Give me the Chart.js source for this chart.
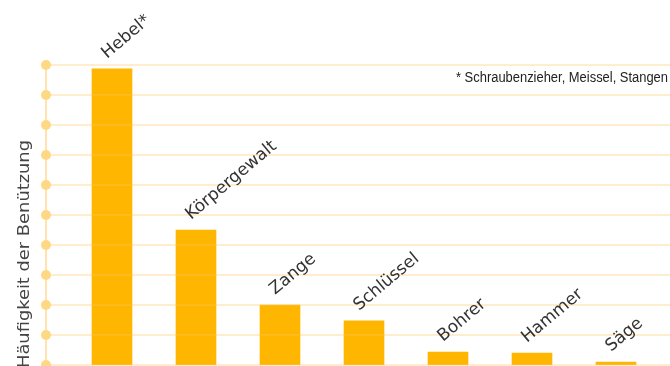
<!DOCTYPE html>
<html>
<head>
<meta charset="utf-8">
<script src="https://cdn.jsdelivr.net/npm/chart.js@4"></script>
<style>
  html, body { margin: 0; padding: 0; background: #fff; }
  #wrap { width: 670px; height: 366px; }
</style>
</head>
<body>
<div id="wrap"><canvas id="chart" width="670" height="366"></canvas></div>
<script>
const categories = ["Hebel*", "Körpergewalt", "Zange", "Schlüssel", "Bohrer", "Hammer", "Säge"];
const usage = [9.87, 4.5, 2.0, 1.47, 0.43, 0.4, 0.1];
const gridValues = [0, 1, 2, 3, 4, 5, 6, 7, 8, 9, 10];
const yTitle = "Häufigkeit der Benützung";
const footnote = "* Schraubenzieher, Meissel, Stangen";

const barColor = "#ffb600";
const labelFont = "17px 'DejaVu Sans', sans-serif";

// grid, axis dots and all the free-standing text
const decorations = {
    id: "decorations",
    afterDatasetsDraw(chart) {
        const { ctx, chartArea, scales } = chart;
        const y = scales.y;
        const axisX = chartArea.left - 24;
        const topY = y.getPixelForValue(gridValues[gridValues.length - 1]);

        ctx.save();
        // horizontal lines (drawn over the bars, slightly transparent)
        ctx.strokeStyle = "rgba(255, 196, 90, 0.3)";
        ctx.lineWidth = 2;
        gridValues.forEach((v) => {
            const py = Math.round(y.getPixelForValue(v));
            ctx.beginPath();
            ctx.moveTo(axisX, py);
            ctx.lineTo(chart.width, py);
            ctx.stroke();
        });

        // vertical axis line + dots
        ctx.strokeStyle = "#ffe2ad";
        ctx.beginPath();
        ctx.moveTo(axisX, topY);
        ctx.lineTo(axisX, chart.height);
        ctx.stroke();
        ctx.fillStyle = "#ffd886";
        gridValues.forEach((v) => {
            const py = y.getPixelForValue(v);
            ctx.beginPath();
            ctx.arc(axisX, py, 5, 0, Math.PI * 2);
            ctx.fill();
        });

        // rotated category labels above the bars
        const meta = chart.getDatasetMeta(0);
        ctx.fillStyle = "#333";
        ctx.font = labelFont;
        ctx.textAlign = "left";
        ctx.textBaseline = "alphabetic";
        meta.data.forEach((bar, i) => {
            const left = bar.x - bar.width / 2;
            ctx.save();
            ctx.translate(left + 15, bar.y - 10);
            ctx.rotate(-40 * Math.PI / 180);
            ctx.fillText(categories[i], 0, 0);
            ctx.restore();
        });

        // y title
        ctx.save();
        ctx.font = "16px 'DejaVu Sans', sans-serif";
        ctx.fillStyle = "#444";
        ctx.translate(29, 368);
        ctx.rotate(-Math.PI / 2);
        const w = ctx.measureText(yTitle).width;
        ctx.scale(228 / w, 1);
        ctx.fillText(yTitle, 0, 0);
        ctx.restore();

        // footnote (narrow face, squeezed to the reference width)
        ctx.save();
        ctx.font = "14px 'Liberation Sans', Arial, sans-serif";
        ctx.fillStyle = "#222";
        ctx.textAlign = "right";
        const fw = ctx.measureText(footnote).width;
        ctx.translate(668, 82);
        ctx.scale(212 / fw, 1);
        ctx.fillText(footnote, 0, 0);
        ctx.restore();
        ctx.restore();
    },
};

new Chart(document.getElementById("chart"), {
    type: "bar",
    data: {
        labels: categories,
        datasets: [
            {
                data: usage,
                backgroundColor: barColor,
                borderWidth: 0,
                barThickness: 40,
            },
        ],
    },
    options: {
        responsive: false,
        animation: false,
        layout: { padding: { left: 70, right: 12, top: 65, bottom: 1 } },
        plugins: { legend: { display: false }, tooltip: { enabled: false } },
        scales: {
            x: { display: false, offset: true },
            y: { display: false, min: 0, max: 10 },
        },
    },
    plugins: [decorations],
});
</script>
</body>
</html>
